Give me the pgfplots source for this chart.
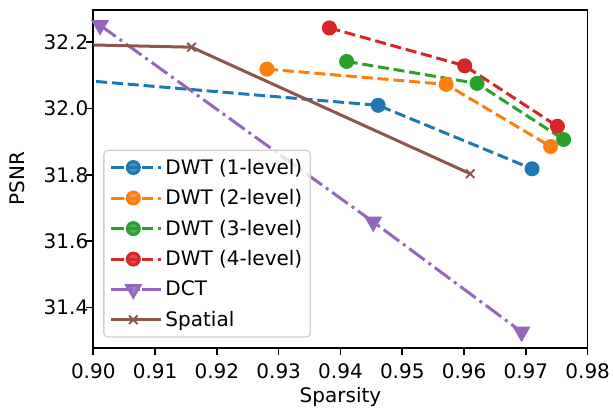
\documentclass[border=0pt]{standalone}
\usepackage{fontspec}
\setmainfont{DejaVu Sans}
\usepackage{pgfplots}
\pgfplotsset{compat=1.18}
\usetikzlibrary{calc}
\definecolor{c0}{HTML}{1F77B4}
\definecolor{c1}{HTML}{FF7F0E}
\definecolor{c2}{HTML}{2CA02C}
\definecolor{c3}{HTML}{D62728}
\definecolor{c4}{HTML}{9467BD}
\definecolor{c5}{HTML}{8C564B}
\tikzset{
  mpldash/.style={dash pattern=on 8.3pt off 3.6pt},
  mpldashdot/.style={dash pattern=on 14.4pt off 3.6pt on 2.25pt off 3.6pt},
}
\begin{document}
\begin{tikzpicture}
\begin{axis}[
  scale only axis, width=371pt, height=253.5pt,
  xmin=0.9, xmax=0.98, ymin=31.279, ymax=32.296,
  xtick={0.90,0.91,0.92,0.93,0.94,0.95,0.96,0.97,0.98},
  ytick={31.4,31.6,31.8,32.0,32.2},
  scaled ticks=false,
  xticklabel style={/pgf/number format/.cd,fixed,fixed zerofill,precision=2, /tikz/.cd, yshift=-3pt},
  yticklabel style={/pgf/number format/.cd,fixed,fixed zerofill,precision=1, /tikz/.cd, xshift=5pt},
  /pgf/number format/assume math mode=true,
  tick align=outside, xtick pos=bottom, ytick pos=left,
  major tick length=5.25pt,
  tick style={black, line width=1.2pt},
  axis line style={line width=1.2pt},
  xlabel=Sparsity, ylabel=PSNR,
  xlabel style={at={(axis description cs:0.5,-0.145)}, anchor=center},
  ylabel style={at={(axis description cs:-0.1535,0.5)}, anchor=center, rotate=0},
  font=\fontsize{15}{18}\selectfont,
  every tick label/.append style={font=\fontsize{15}{18}\selectfont},
  legend style={at={(axis description cs:0.02,0.03)}, anchor=south west, draw=black!18, line width=1pt, rounded corners=3pt,
    fill=white, fill opacity=0.8, text opacity=1, row sep=6pt,
    inner xsep=4pt, inner ysep=4.5pt,
    font=\fontsize{15}{18}\selectfont},
  legend cell align=left,
  legend image code/.code={\path (-2pt,0pt) -- (36pt,0pt);\draw[mark repeat=2,mark phase=2] plot coordinates {(0pt,0pt) (15pt,0pt) (30pt,0pt)};},
]
\addplot[c0, line width=2.25pt, mpldash, mark=*, mark size=4.5pt, mark options={solid}] coordinates {
 (0.88,32.113) (0.9461,32.009) (0.9710,31.818)};
\addlegendentry{DWT (1-level)}
\addplot[c1, line width=2.25pt, mpldash, mark=*, mark size=4.5pt, mark options={solid}] coordinates {
 (0.9281,32.118) (0.9571,32.072) (0.9740,31.885)};
\addlegendentry{DWT (2-level)}
\addplot[c2, line width=2.25pt, mpldash, mark=*, mark size=4.5pt, mark options={solid}] coordinates {
 (0.9410,32.141) (0.9621,32.075) (0.9761,31.906)};
\addlegendentry{DWT (3-level)}
\addplot[c3, line width=2.25pt, mpldash, mark=*, mark size=4.5pt, mark options={solid}] coordinates {
 (0.9382,32.242) (0.9601,32.128) (0.9751,31.946)};
\addlegendentry{DWT (4-level)}
\addplot[c4, line width=2.25pt, mpldashdot, mark=triangle*, mark size=5.5pt, mark options={solid, rotate=180}] coordinates {
 (0.9011,32.250) (0.9453,31.658) (0.9693,31.327)};
\addlegendentry{DCT}
\addplot[c5, line width=2.25pt, mark=x, mark size=4.5pt, mark options={solid, line width=1.5pt}] coordinates {
 (0.88,32.199) (0.9159,32.184) (0.9610,31.803)};
\addlegendentry{Spatial}
\end{axis}
\pgfresetboundingbox
\path[use as bounding box] ($(current axis.south west)+(-70pt,-48pt)$) rectangle ($(current axis.north east)+(19pt,7.5pt)$);
\end{tikzpicture}
\end{document}
